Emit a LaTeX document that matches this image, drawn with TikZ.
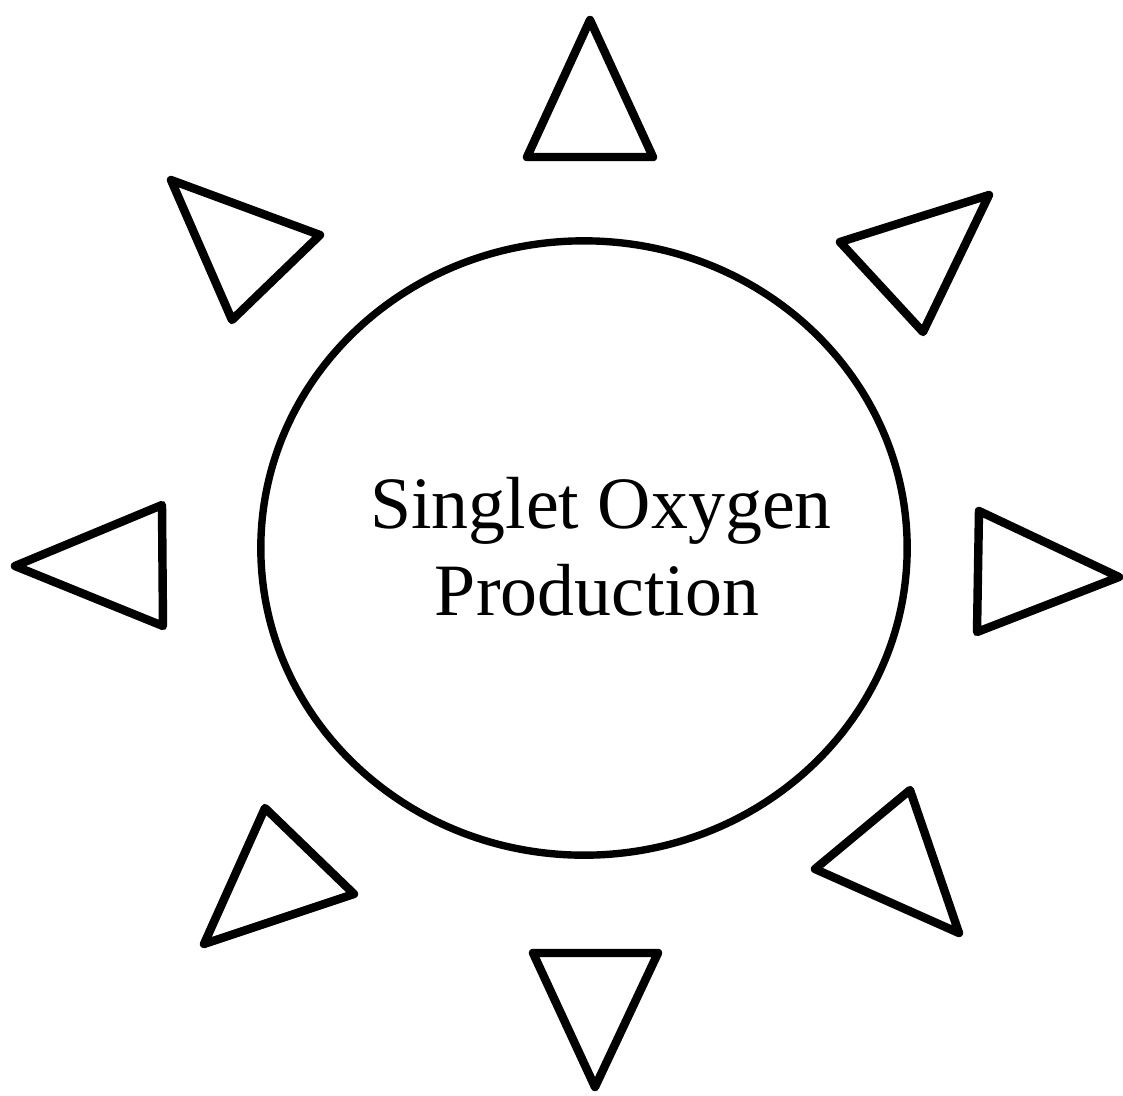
\documentclass[tikz,border=0pt]{standalone}
\usepackage{fontspec}
\setmainfont{Liberation Serif}
\usetikzlibrary{shapes.geometric}
\begin{document}
\begin{tikzpicture}[x=0.01cm,y=-0.01cm,
  ray/.style={draw=black,line width=2.4pt,line join=round,line cap=round},
  core/.style={draw=black,line width=2.1pt,ellipse,inner sep=0pt,minimum width=6.46cm,minimum height=6.14cm},
  label/.style={font=\fontsize{21}{25}\selectfont,inner sep=0pt,anchor=base}]
\useasboundingbox[fill=white] (0,0) rectangle (1123,1096);
% central ellipse
\node[core] (sun) at (584,548) {};
\node[label] (l1) at (601,528) {Singlet Oxygen};
\node[label] (l2) at (597,615) {Production};
% rays
\coordinate (n1) at (590,20);  \coordinate (n2) at (527,157); \coordinate (n3) at (653,157);
\coordinate (nw1) at (171,180); \coordinate (nw2) at (320,235); \coordinate (nw3) at (232,320);
\coordinate (ne1) at (840,242); \coordinate (ne2) at (989,195); \coordinate (ne3) at (923,332);
\coordinate (w1) at (15,566);  \coordinate (w2) at (162,505); \coordinate (w3) at (163,626);
\coordinate (e1) at (979,511); \coordinate (e2) at (1119,577); \coordinate (e3) at (977,632);
\coordinate (sw1) at (265,808); \coordinate (sw2) at (354,894); \coordinate (sw3) at (204,944);
\coordinate (s1) at (533,953); \coordinate (s2) at (658,953); \coordinate (s3) at (595,1087);
\coordinate (se1) at (910,790); \coordinate (se2) at (959,933); \coordinate (se3) at (815,869);
\draw[ray] (n1) -- (n2) -- (n3) -- cycle;
\draw[ray] (nw1) -- (nw2) -- (nw3) -- cycle;
\draw[ray] (ne1) -- (ne2) -- (ne3) -- cycle;
\draw[ray] (w1) -- (w2) -- (w3) -- cycle;
\draw[ray] (e1) -- (e2) -- (e3) -- cycle;
\draw[ray] (sw1) -- (sw2) -- (sw3) -- cycle;
\draw[ray] (s1) -- (s2) -- (s3) -- cycle;
\draw[ray] (se1) -- (se2) -- (se3) -- cycle;
\end{tikzpicture}
\end{document}
